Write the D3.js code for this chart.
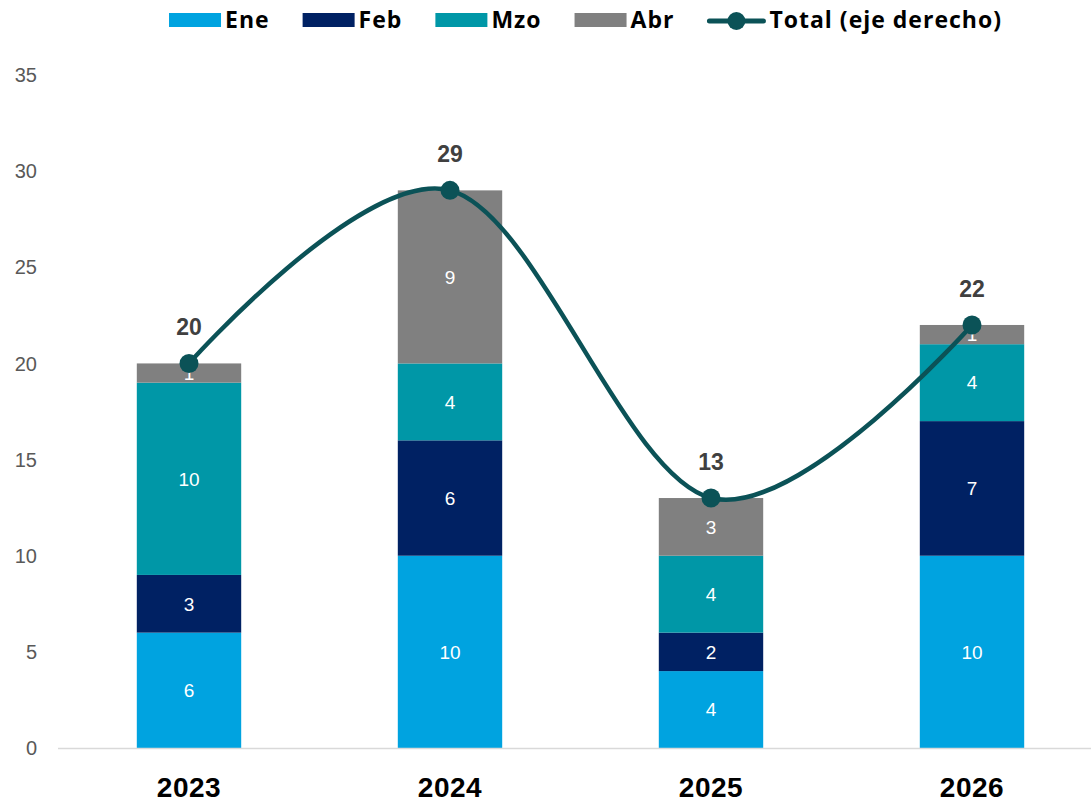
<!DOCTYPE html>
<html>
<head>
<meta charset="utf-8">
<script src="https://cdn.jsdelivr.net/npm/d3@7"></script>
<style>
  body { margin: 0; background: #fff; }
  svg { display: block; }
</style>
</head>
<body>
<div id="chart"></div>
<script>
// data
const years = ["2023", "2024", "2025", "2026"];
const months = ["Ene", "Feb", "Mzo", "Abr"];
const ene = [6, 10, 4, 10];
const feb = [3, 6, 2, 7];
const mzo = [10, 4, 4, 4];
const abr = [1, 9, 3, 1];
const total = [20, 29, 13, 22];
const yTicks = [0, 5, 10, 15, 20, 25, 30, 35];

const colors = ["#00a3e0", "#002163", "#0097a7", "#808080"];
const lineColor = "#0b5257";

const width = 1091, height = 804;

let svg = d3.select("#chart")
    .append("svg")
    .attr("width", width)
    .attr("height", height);

//scales
const x = d3.scaleBand().domain(years).range([58.5, 1102.5]).padding(0);
const y = d3.scaleLinear().domain([0, 35]).range([748, 75]);
const barW = x.bandwidth() * 0.4;

//build rows for the stack
const rows = years.map((yr, i) => ({ year: yr, Ene: ene[i], Feb: feb[i], Mzo: mzo[i], Abr: abr[i] }));
const stacked = d3.stack().keys(months)(rows);

//y axis labels only (no gridlines)
svg.append("g")
    .selectAll("text")
    .data(yTicks)
    .enter()
    .append("text")
    .attr("x", 37)
    .attr("y", (d) => y(d))
    .attr("dy", "0.36em")
    .attr("text-anchor", "end")
    .style("font-family", "'Liberation Sans', Arial, sans-serif")
    .style("font-size", "20px")
    .style("fill", "#595959")
    .text((d) => d);

//bars
let layers = svg.append("g")
    .selectAll("g")
    .data(stacked)
    .enter()
    .append("g")
    .attr("fill", (d, i) => colors[i]);

layers.selectAll("rect")
    .data((d) => d)
    .enter()
    .append("rect")
    .attr("x", (d) => x(d.data.year) + x.bandwidth() / 2 - barW / 2)
    .attr("y", (d) => y(d[1]))
    .attr("width", barW)
    .attr("height", (d) => y(d[0]) - y(d[1]));

//bar labels
layers.selectAll("text")
    .data((d) => d)
    .enter()
    .append("text")
    .attr("x", (d) => x(d.data.year) + x.bandwidth() / 2)
    .attr("y", (d) => (y(d[0]) + y(d[1])) / 2)
    .attr("dy", "0.36em")
    .attr("text-anchor", "middle")
    .style("font-family", "'Liberation Sans', Arial, sans-serif")
    .style("font-size", "19px")
    .style("fill", "#ffffff")
    .text((d) => d[1] - d[0]);

//x axis line
svg.append("line")
    .attr("x1", 58)
    .attr("x2", width)
    .attr("y1", y(0) + 0.5)
    .attr("y2", y(0) + 0.5)
    .attr("stroke", "#d9d9d9")
    .attr("stroke-width", 1.5);

//year labels
svg.append("g")
    .selectAll("text")
    .data(years)
    .enter()
    .append("text")
    .attr("x", (d) => x(d) + x.bandwidth() / 2)
    .attr("y", 797)
    .attr("text-anchor", "middle")
    .style("font-family", "'Liberation Sans', Arial, sans-serif")
    .style("font-size", "28px")
    .style("font-weight", "bold")
    .style("letter-spacing", "0.5px")
    .style("fill", "#000")
    .text((d) => d);

//total line (smoothed like excel)
const line = d3.line()
    .x((d, i) => x(years[i]) + x.bandwidth() / 2)
    .y((d) => y(d))
    .curve(d3.curveCardinal.tension(0));

svg.append("path")
    .datum(total)
    .attr("d", line)
    .attr("fill", "none")
    .attr("stroke", lineColor)
    .attr("stroke-width", 4.5);

svg.append("g")
    .selectAll("circle")
    .data(total)
    .enter()
    .append("circle")
    .attr("cx", (d, i) => x(years[i]) + x.bandwidth() / 2)
    .attr("cy", (d) => y(d))
    .attr("r", 9.5)
    .attr("fill", lineColor);

svg.append("g")
    .selectAll("text")
    .data(total)
    .enter()
    .append("text")
    .attr("x", (d, i) => x(years[i]) + x.bandwidth() / 2)
    .attr("y", (d) => y(d) - 28)
    .attr("text-anchor", "middle")
    .style("font-family", "'Liberation Sans', Arial, sans-serif")
    .style("font-size", "23px")
    .style("font-weight", "bold")
    .style("fill", "#404040")
    .text((d) => d);

//legend
const legendFont = "'Open Sans', 'Liberation Sans', Arial, sans-serif";
let legend = svg.append("g");
const legendItems = months.map((m, i) => ({ label: m, color: colors[i], type: "rect" }))
    .concat([{ label: "Total (eje derecho)", color: lineColor, type: "line" }]);

let lx = 0;
legendItems.forEach((item) => {
    let g = legend.append("g").attr("transform", `translate(${lx},0)`);
    if (item.type == "rect") {
        g.append("rect")
            .attr("x", 0)
            .attr("y", 13)
            .attr("width", 52)
            .attr("height", 14)
            .attr("fill", item.color);
    } else {
        g.append("line")
            .attr("x1", 2)
            .attr("x2", 56)
            .attr("y1", 21)
            .attr("y2", 21)
            .attr("stroke", item.color)
            .attr("stroke-width", 5)
            .attr("stroke-linecap", "round");
        g.append("circle")
            .attr("cx", 29)
            .attr("cy", 21)
            .attr("r", 9)
            .attr("fill", item.color);
    }
    let sw = item.type == "rect" ? 52 : 58;
    let t = g.append("text")
        .attr("x", sw + 4)
        .attr("y", 20)
        .attr("dy", "0.36em")
        .style("font-family", legendFont)
        .style("font-size", "23px")
        .style("font-weight", "bold")
        .style("letter-spacing", "1px")
        .style("fill", "#000")
        .text(item.label);
    lx += sw + 4 + t.node().getComputedTextLength() + 33;
});
const legendW = lx - 33;
legend.attr("transform", `translate(${585.5 - legendW / 2},0)`);
</script>
</body>
</html>
